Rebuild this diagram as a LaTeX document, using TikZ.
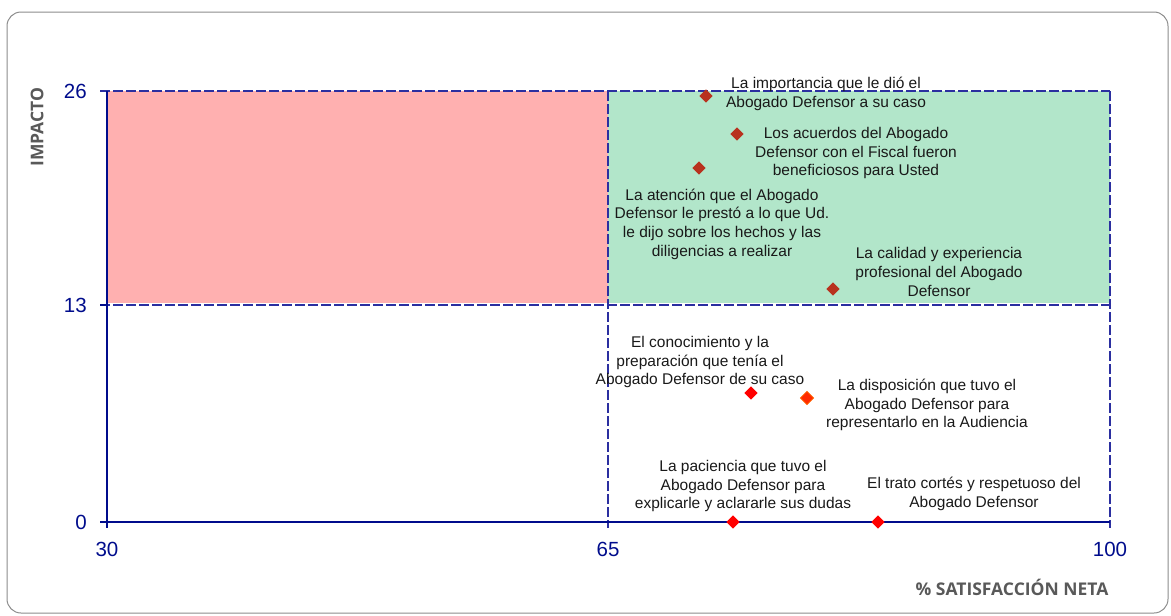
\documentclass[tikz,border=0pt]{standalone}
\usepackage{fontspec}
\setmainfont{Liberation Sans}
\newfontfamily\axfont{Open Sans}
\usetikzlibrary{shapes.geometric}
\definecolor{navy}{HTML}{000C8C}
\definecolor{gridblue}{HTML}{2B2FA0}
\definecolor{redfill}{HTML}{FFB0B0}
\definecolor{greenfill}{HTML}{B2E6CA}
\definecolor{darkred}{HTML}{B8321E}
\definecolor{brightred}{HTML}{FF0000}
\definecolor{orangered}{HTML}{FF2A00}
\definecolor{axgray}{HTML}{595959}
\definecolor{framegray}{HTML}{8C8C8C}
\tikzset{
  dot/.style={diamond, inner sep=0pt, minimum width=13.5pt, minimum height=13.5pt, draw=none},
  dotdark/.style={dot, fill=darkred},
  dotred/.style={dot, fill=brightred},
  dotorange/.style={dot, fill=orangered, draw=orange!80!red, line width=0.8pt},
  lbl/.style={align=center, font=\fontsize{15.5}{18.6}\selectfont, text=black!90, inner sep=0pt},
  ticklbl/.style={font=\fontsize{20.5}{22}\selectfont, text=navy, inner sep=0pt},
  axtitle/.style={font=\axfont\bfseries\fontsize{17.5}{20}\selectfont, text=axgray, inner sep=0pt},
  gridline/.style={draw=gridblue, line width=1.2pt, dash pattern=on 10pt off 3pt},
  axisline/.style={draw=navy, line width=1.3pt},
}
\begin{document}
\begin{tikzpicture}[x=1pt,y=-1pt]
\useasboundingbox (0,0) rectangle (1171,616);
% frame
\draw[framegray, line width=1pt, rounded corners=14pt] (7,12) rectangle (1168,613);
% quadrant fills
\fill[redfill] (107,91) rectangle (608,303);
\fill[greenfill] (608,91) rectangle (1110,303);
% grid lines
\draw[gridline] (100,91) -- (1110,91);
\draw[gridline] (100,305) -- (1110,305);
\draw[gridline] (608,91) -- (608,528);
\draw[gridline] (1110,91) -- (1110,528);
% axes
\draw[axisline] (107,91) -- (107,528);
\draw[axisline] (100,522) -- (1110,522);
\draw[axisline] (100,305) -- (107,305);
% tick labels
\node[ticklbl, anchor=east] (y26) at (87,91) {26};
\node[ticklbl, anchor=east] (y13) at (87,305) {13};
\node[ticklbl, anchor=east] (y0) at (87,522) {0};
\node[ticklbl] (x30) at (107,549) {30};
\node[ticklbl] (x65) at (608,549) {65};
\node[ticklbl] (x100) at (1110,549) {100};
% axis titles
\node[axtitle, rotate=90] (ytitle) at (37,127) {IMPACTO};
\node[axtitle] (xtitle) at (1012,587) {\% SATISFACCIÓN NETA};
% data points
\node[dotdark] (p1) at (706,96) {};
\node[dotdark] (p2) at (737,134) {};
\node[dotdark] (p3) at (699,168) {};
\node[dotdark] (p4) at (833,289) {};
\node[dotred] (p5) at (751,393) {};
\node[dotorange] (p6) at (807,398) {};
\node[dotred] (p7) at (733,522) {};
\node[dotred] (p8) at (878,522) {};
% labels
\node[lbl] (l1) at (826,94) {La importancia que le dió el\\Abogado Defensor a su caso};
\node[lbl] (l2) at (856,153) {Los acuerdos del Abogado\\Defensor con el Fiscal fueron\\beneficiosos para Usted};
\node[lbl] (l3) at (722,224) {La atención que el Abogado\\Defensor le prestó a lo que Ud.\\le dijo sobre los hechos y las\\diligencias a realizar};
\node[lbl] (l4) at (939,272) {La calidad y experiencia\\profesional del Abogado\\Defensor};
\node[lbl] (l5) at (700,362) {El conocimiento y la\\preparación que tenía el\\Abogado Defensor de su caso};
\node[lbl] (l6) at (927,405) {La disposición que tuvo el\\Abogado Defensor para\\representarlo en la Audiencia};
\node[lbl] (l7) at (743,486) {La paciencia que tuvo el\\Abogado Defensor para\\explicarle y aclararle sus dudas};
\node[lbl] (l8) at (974,494) {El trato cortés y respetuoso del\\Abogado Defensor};
\end{tikzpicture}
\end{document}
